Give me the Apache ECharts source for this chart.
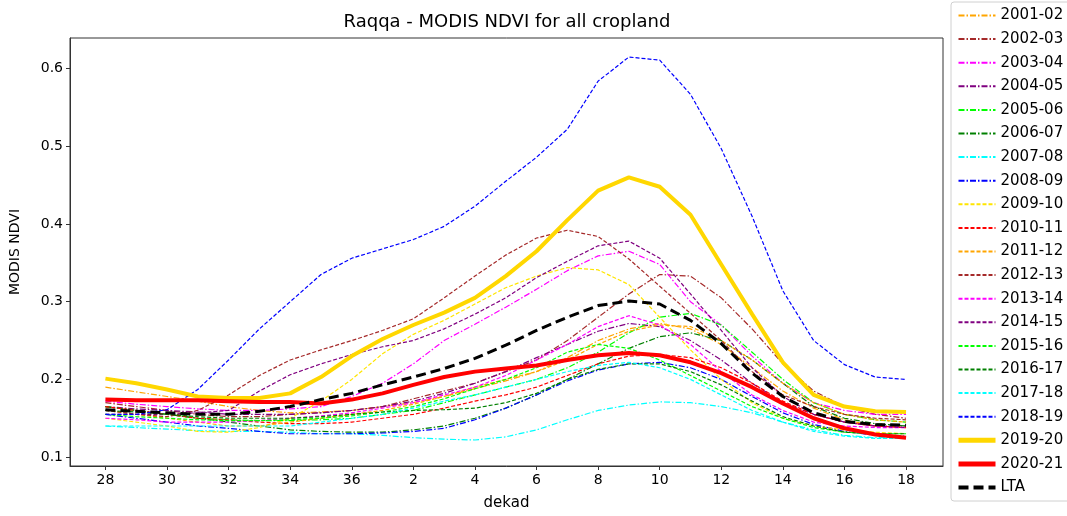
<!DOCTYPE html>
<html>
<head>
<meta charset="utf-8">
<script src="https://cdn.jsdelivr.net/npm/echarts@6/dist/echarts.min.js"></script>
<style>html,body{margin:0;padding:0;background:#fff}#c{width:1067px;height:516px}</style>
</head>
<body>
<div id="c"></div>
<script>
// Dekads on the x axis (season from dekad 28 to dekad 18 of next year)
const dekads = [28,29,30,31,32,33,34,35,36,1,2,3,4,5,6,7,8,9,10,11,12,13,14,15,16,17,18];
const xTickDekads = [28,30,32,34,36,2,4,6,8,10,12,14,16,18];
const yTicks = [0.1,0.2,0.3,0.4,0.5,0.6];

const s2001_02 = [0.190,0.184,0.178,0.172,0.165,0.160,0.157,0.158,0.160,0.165,0.170,0.178,0.188,0.198,0.210,0.228,0.250,0.265,0.272,0.265,0.245,0.215,0.185,0.163,0.148,0.140,0.138];
const s2002_03 = [0.170,0.165,0.160,0.155,0.152,0.152,0.155,0.157,0.160,0.165,0.175,0.185,0.195,0.210,0.225,0.250,0.280,0.310,0.335,0.333,0.305,0.265,0.220,0.185,0.165,0.155,0.150];
const s2003_04 = [0.172,0.168,0.165,0.162,0.160,0.160,0.162,0.165,0.178,0.195,0.220,0.250,0.271,0.293,0.316,0.340,0.359,0.365,0.348,0.300,0.270,0.230,0.195,0.170,0.160,0.155,0.155];
const s2004_05 = [0.165,0.162,0.160,0.158,0.155,0.155,0.155,0.157,0.160,0.165,0.172,0.182,0.195,0.210,0.228,0.245,0.262,0.272,0.268,0.250,0.225,0.195,0.170,0.155,0.145,0.140,0.140];
const s2005_06 = [0.165,0.160,0.155,0.150,0.148,0.147,0.147,0.148,0.150,0.155,0.160,0.170,0.180,0.190,0.200,0.215,0.235,0.260,0.280,0.285,0.270,0.235,0.200,0.170,0.155,0.148,0.145];
const s2006_07 = [0.165,0.160,0.155,0.150,0.145,0.140,0.135,0.133,0.132,0.132,0.135,0.140,0.150,0.163,0.180,0.200,0.220,0.240,0.255,0.260,0.250,0.225,0.195,0.165,0.150,0.143,0.140];
const s2007_08 = [0.140,0.138,0.136,0.134,0.133,0.133,0.132,0.130,0.130,0.128,0.125,0.123,0.122,0.126,0.135,0.148,0.160,0.167,0.171,0.170,0.165,0.157,0.145,0.135,0.128,0.125,0.125];
const s2008_09 = [0.155,0.150,0.145,0.140,0.137,0.133,0.130,0.130,0.130,0.131,0.133,0.137,0.148,0.163,0.180,0.198,0.212,0.220,0.222,0.215,0.200,0.178,0.157,0.142,0.133,0.128,0.127];
const s2009_10 = [0.150,0.145,0.140,0.133,0.132,0.138,0.150,0.172,0.200,0.233,0.258,0.276,0.297,0.318,0.333,0.344,0.341,0.322,0.280,0.238,0.200,0.170,0.150,0.140,0.135,0.132,0.130];
const s2010_11 = [0.165,0.160,0.155,0.150,0.148,0.145,0.143,0.143,0.145,0.150,0.155,0.163,0.172,0.180,0.190,0.205,0.220,0.230,0.232,0.228,0.215,0.195,0.172,0.155,0.145,0.140,0.138];
const s2011_12 = [0.160,0.155,0.150,0.145,0.140,0.140,0.145,0.150,0.155,0.160,0.168,0.178,0.190,0.200,0.210,0.225,0.245,0.262,0.270,0.268,0.250,0.225,0.195,0.170,0.155,0.148,0.145];
const s2012_13 = [0.160,0.155,0.152,0.160,0.180,0.205,0.225,0.238,0.250,0.263,0.278,0.305,0.333,0.360,0.382,0.392,0.384,0.355,0.320,0.285,0.250,0.210,0.180,0.165,0.155,0.150,0.148];
const s2013_14 = [0.150,0.148,0.145,0.145,0.145,0.147,0.150,0.153,0.157,0.163,0.170,0.180,0.190,0.205,0.225,0.245,0.268,0.282,0.270,0.245,0.210,0.180,0.160,0.145,0.140,0.138,0.138];
const s2014_15 = [0.155,0.155,0.155,0.157,0.160,0.185,0.206,0.220,0.232,0.242,0.250,0.265,0.284,0.305,0.331,0.352,0.372,0.378,0.356,0.310,0.263,0.215,0.178,0.155,0.145,0.140,0.138];
const s2015_16 = [0.155,0.152,0.150,0.148,0.147,0.147,0.148,0.150,0.153,0.158,0.165,0.175,0.188,0.200,0.215,0.235,0.245,0.240,0.225,0.205,0.185,0.165,0.150,0.138,0.132,0.130,0.130];
const s2016_17 = [0.160,0.158,0.155,0.152,0.150,0.150,0.150,0.152,0.155,0.158,0.160,0.161,0.163,0.170,0.182,0.200,0.213,0.220,0.220,0.210,0.193,0.172,0.152,0.140,0.132,0.130,0.130];
const s2017_18 = [0.140,0.140,0.140,0.140,0.140,0.140,0.140,0.145,0.150,0.155,0.163,0.172,0.180,0.190,0.200,0.210,0.218,0.222,0.215,0.200,0.180,0.160,0.145,0.133,0.127,0.124,0.124];
const s2018_19 = [0.155,0.155,0.161,0.187,0.225,0.265,0.300,0.335,0.356,0.368,0.380,0.397,0.423,0.455,0.486,0.522,0.584,0.615,0.611,0.567,0.497,0.410,0.314,0.250,0.219,0.203,0.200];
const s2019_20 = [0.201,0.195,0.187,0.178,0.176,0.176,0.182,0.203,0.230,0.252,0.270,0.286,0.305,0.333,0.365,0.405,0.443,0.460,0.448,0.412,0.348,0.284,0.222,0.180,0.165,0.159,0.158];
const s2020_21 = [0.174,0.173,0.173,0.173,0.172,0.171,0.171,0.169,0.174,0.182,0.193,0.203,0.210,0.214,0.218,0.225,0.231,0.234,0.231,0.222,0.208,0.190,0.169,0.150,0.137,0.129,0.125];
const sLTA    = [0.161,0.159,0.157,0.155,0.155,0.159,0.165,0.174,0.182,0.193,0.203,0.214,0.227,0.244,0.263,0.280,0.295,0.301,0.297,0.276,0.246,0.208,0.178,0.157,0.146,0.142,0.141];

const seriesNames = ['2001-02','2002-03','2003-04','2004-05','2005-06','2006-07','2007-08','2008-09','2009-10','2010-11','2011-12','2012-13','2013-14','2014-15','2015-16','2016-17','2017-18','2018-19','2019-20','2020-21','LTA'];
const seriesValues = [s2001_02,s2002_03,s2003_04,s2004_05,s2005_06,s2006_07,s2007_08,s2008_09,s2009_10,s2010_11,s2011_12,s2012_13,s2013_14,s2014_15,s2015_16,s2016_17,s2017_18,s2018_19,s2019_20,s2020_21,sLTA];

// styles
const DD = [6, 2, 1.5, 2];   // dash-dot
const DA = [4, 2];           // dashed
const styles = [
  ['#FFA500',1.2,DD],['#A52A2A',1.2,DD],['#FF00FF',1.2,DD],['#800080',1.2,DD],
  ['#00FF00',1.2,DD],['#008000',1.2,DD],['#00FFFF',1.2,DD],['#0000FF',1.2,DD],
  ['#FFE500',1.2,DA],['#FF0000',1.2,DA],['#FFA500',1.2,DA],['#A52A2A',1.2,DA],
  ['#FF00FF',1.2,DA],['#800080',1.2,DA],['#00FF00',1.2,DA],['#008000',1.2,DA],
  ['#00FFFF',1.2,DA],['#0000FF',1.2,DA],
  ['#FFD700',4,'solid'],['#FF0000',4,'solid'],['#000000',3,[10,5]]
];

const idxOf = d => dekads.indexOf(d);
const xTickIdx = xTickDekads.map(idxOf);

const series = seriesNames.map((name, k) => ({
  name: name,
  type: 'line',
  symbol: 'none',
  smooth: false,
  animation: false,
  z: 2 + k,
  lineStyle: { color: styles[k][0], width: styles[k][1], type: styles[k][2] },
  itemStyle: { color: styles[k][0] },
  data: seriesValues[k].map((v, i) => [i, v])
}));

const legendData = seriesNames.map((name, k) => {
  const w = styles[k][1];
  const item = { name: name };
  if (w > 2) item.lineStyle = { width: w + 1, type: styles[k][2] };
  return item;
});

const FONT = 'DejaVu Sans';
const chart = echarts.init(document.getElementById('c'), null, { renderer: 'canvas' });
chart.setOption({
  animation: false,
  backgroundColor: '#fff',
  textStyle: { fontFamily: FONT },
  title: {
    text: 'Raqqa - MODIS NDVI for all cropland',
    left: 502, top: 8, textAlign: 'center',
    textStyle: { fontFamily: FONT, fontSize: 18, fontWeight: 'normal', color: '#000' }
  },
  grid: { left: 70, right: 124, top: 38, bottom: 46, show: true, borderColor: '#333', borderWidth: 1 },
  legend: {
    orient: 'vertical', left: 951, top: 2,
    itemWidth: 37, itemHeight: 14, itemGap: 8.6,
    padding: [6, 8, 6, 5],
    borderColor: '#d0d0d0', borderWidth: 1, borderRadius: 3,
    itemStyle: { opacity: 0, borderWidth: 0 },
    textStyle: { fontFamily: FONT, fontSize: 15, color: '#000' },
    data: legendData
  },
  xAxis: {
    type: 'value', min: -1.15, max: 27.2,
    name: 'dekad', nameLocation: 'middle', nameGap: 30,
    nameTextStyle: { fontFamily: FONT, fontSize: 15, color: '#000' },
    axisLine: { show: true, onZero: false, lineStyle: { color: '#333' } },
    axisTick: { show: true, length: 4, customValues: xTickIdx, lineStyle: { color: '#333' } },
    axisLabel: { customValues: xTickIdx, margin: 7, fontFamily: FONT, fontSize: 14, color: '#000',
      formatter: v => String(dekads[Math.round(v)]) },
    splitLine: { show: false }
  },
  yAxis: {
    type: 'value', min: 0.0885, max: 0.6395,
    name: 'MODIS NDVI', nameLocation: 'middle', nameGap: 48,
    nameTextStyle: { fontFamily: FONT, fontSize: 14, color: '#000' },
    axisLine: { show: true, onZero: false, lineStyle: { color: '#333' } },
    axisTick: { show: true, length: 4, customValues: yTicks, lineStyle: { color: '#333' } },
    axisLabel: { customValues: yTicks, margin: 7, fontFamily: FONT, fontSize: 14, color: '#000',
      formatter: v => v.toFixed(1) },
    splitLine: { show: false }
  },
  series: series
});
</script>
</body>
</html>
